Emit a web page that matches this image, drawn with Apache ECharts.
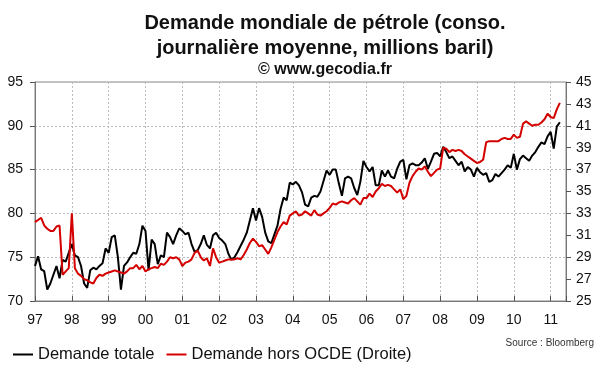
<!DOCTYPE html>
<html>
<head>
<meta charset="utf-8">
<script src="https://cdn.jsdelivr.net/npm/echarts@6/dist/echarts.min.js"></script>
<style>html,body{margin:0;padding:0;background:#fff;}#c{width:600px;height:372px;}</style>
</head>
<body>
<div id="c"></div>
<script>
// Monthly data, Jan 1997 .. Apr 2011
const yearLabels = ['97','98','99','00','01','02','03','04','05','06','07','08','09','10','11'];
const demandeTotale = [
74.0,75.1,73.6,73.4,71.3,72.0,73.0,74.0,72.6,74.7,74.5,75.5,
76.5,75.2,75.0,74.0,72.0,71.5,73.5,73.8,73.6,74.0,74.3,76.0,
75.5,77.3,77.5,75.0,71.3,74.0,74.4,75.0,75.5,75.4,76.5,78.6,
78.0,73.5,77.0,76.5,74.2,75.2,75.0,77.8,77.3,76.5,77.5,78.3,
78.0,77.6,77.8,76.5,75.6,75.8,76.5,77.5,76.4,76.0,77.5,77.8,
77.2,76.9,76.5,75.4,74.7,75.0,75.6,76.3,77.0,77.8,79.2,80.6,
79.2,80.6,79.6,77.8,76.8,76.6,77.6,78.6,80.5,81.8,81.5,83.5,
83.3,83.6,83.2,82.4,81.0,80.8,81.8,82.0,81.9,82.5,83.7,84.9,
84.4,85.0,85.0,83.4,82.0,84.0,84.2,84.0,82.9,82.1,83.6,86.0,
85.3,84.8,85.3,83.2,83.2,84.9,84.2,84.9,84.2,84.0,85.1,85.9,
86.1,83.9,85.5,85.7,85.5,85.5,85.8,86.3,85.1,85.9,86.8,86.9,
86.5,87.6,87.0,86.3,86.5,86.0,85.5,85.9,84.8,85.3,85.0,84.2,
85.2,84.7,84.4,84.6,83.6,83.8,84.5,84.2,84.6,85.0,85.5,85.2,
86.8,85.0,86.2,86.6,86.3,86.0,86.6,87.0,87.6,88.1,87.9,88.8,
89.3,87.4,89.9,90.4
];
const demandeHorsOCDE = [
32.2,32.4,32.6,31.9,31.6,31.4,31.4,31.8,31.9,27.4,27.7,28.0,
33.0,28.0,27.5,27.3,27.0,26.9,26.7,26.6,27.1,27.4,27.3,27.5,
27.6,27.7,27.8,27.7,27.6,27.5,27.7,28.0,28.0,28.3,27.9,28.2,
27.7,27.9,28.0,28.1,28.0,28.4,28.3,28.6,29.0,28.9,29.0,28.8,
28.2,28.5,28.6,28.8,29.4,29.6,29.0,28.7,28.9,28.2,29.8,29.0,
28.5,28.6,28.7,28.8,28.8,28.8,28.9,28.8,29.2,29.7,30.3,30.7,
30.4,30.0,30.1,29.7,29.3,29.9,30.6,31.3,31.8,32.2,32.0,32.8,
33.0,33.2,32.8,32.9,33.2,33.0,32.8,33.3,32.9,32.8,33.0,33.2,
33.5,33.9,33.8,34.0,34.1,34.0,33.9,34.2,34.4,34.1,33.8,34.4,
34.4,34.8,34.5,35.0,35.3,35.7,35.5,35.6,35.5,35.2,34.9,35.2,
34.3,34.6,35.8,36.4,36.8,37.1,37.0,37.3,36.8,36.4,36.7,37.0,
37.1,39.0,38.9,38.6,38.8,38.7,38.8,38.7,38.4,38.2,38.0,37.8,
37.6,37.7,37.9,39.5,39.6,39.6,39.6,39.6,39.8,39.9,39.8,39.8,
40.2,39.9,40.0,41.2,41.4,41.2,41.0,41.1,41.1,41.3,41.6,42.1,
41.8,41.7,42.5,43.1
];
const leftTicks = [70, 95, 5];
const rightTicks = [25, 45, 2];

const rightBase = rightTicks[0];
const font = "'Liberation Sans', Arial, sans-serif";
const chart = echarts.init(document.getElementById('c'), null, {renderer: 'canvas'});
chart.setOption({
  animation: false,
  backgroundColor: '#fff',
  title: {
    text: '{a|Demande mondiale de pétrole (conso.}\n{a|journalière moyenne, millions baril)}\n{b|© www.gecodia.fr}',
    left: 320, top: 6, textAlign: 'center',
    textStyle: {
      fontFamily: font, fontWeight: 'bold', color: '#111',
      rich: {
        a: {fontFamily: font, fontSize: 20, fontWeight: 'bold', color: '#111', lineHeight: 25, align: 'center'},
        b: {fontFamily: font, fontSize: 16, fontWeight: 'bold', color: '#111', lineHeight: 18, align: 'center'}
      }
    }
  },
  legend: {
    left: 8, top: 341, itemGap: 12, itemWidth: 20, itemHeight: 2, icon: 'rect',
    textStyle: {fontFamily: font, fontSize: 16.5, color: '#111'},
    data: ['Demande totale', 'Demande hors OCDE (Droite)']
  },
  graphic: [{
    type: 'text', right: 6, top: 338,
    style: {text: 'Source : Bloomberg', font: "10px 'Liberation Sans', Arial, sans-serif", fill: '#333'}
  }],
  grid: {left: 35, right: 34, top: 82, bottom: 71, show: true, borderColor: '#888', borderWidth: 1},
  xAxis: {
    type: 'value', min: 0, max: 173, interval: 12,
    axisLine: {lineStyle: {color: '#777'}},
    axisTick: {inside: true, length: 5, lineStyle: {color: '#555'}},
    axisLabel: {fontFamily: font, fontSize: 14, color: '#111', margin: 12,
      formatter: v => (v % 12 === 0 && yearLabels[v / 12] !== undefined) ? yearLabels[v / 12] : ''},
    splitLine: {show: true, lineStyle: {color: '#bbb', type: [2, 2]}}
  },
  yAxis: [{
    type: 'value', min: leftTicks[0], max: leftTicks[1], interval: leftTicks[2], position: 'left',
    axisLine: {show: true, lineStyle: {color: '#777'}},
    axisTick: {show: true, length: 5, lineStyle: {color: '#555'}},
    axisLabel: {fontFamily: font, fontSize: 14, color: '#111', margin: 12},
    splitLine: {show: true, lineStyle: {color: '#bbb', type: [2, 2]}}
  }, {
    type: 'value', min: 0, max: rightTicks[1] - rightBase, interval: rightTicks[2], position: 'right',
    axisLine: {show: true, lineStyle: {color: '#777'}},
    axisTick: {show: true, length: 5, lineStyle: {color: '#555'}},
    axisLabel: {fontFamily: font, fontSize: 14, color: '#111', margin: 10, formatter: v => String(v + rightBase)},
    splitLine: {show: false}
  }],
  series: [{
    name: 'Demande totale', type: 'line', yAxisIndex: 0, showSymbol: false, symbol: 'none',
    lineStyle: {color: '#000', width: 2}, itemStyle: {color: '#000'},
    data: demandeTotale.map((v, i) => [i, v])
  }, {
    name: 'Demande hors OCDE (Droite)', type: 'line', yAxisIndex: 1, showSymbol: false, symbol: 'none',
    lineStyle: {color: '#d40000', width: 2}, itemStyle: {color: '#d40000'},
    data: demandeHorsOCDE.map((v, i) => [i, v - rightBase])
  }]
});
</script>
</body>
</html>
